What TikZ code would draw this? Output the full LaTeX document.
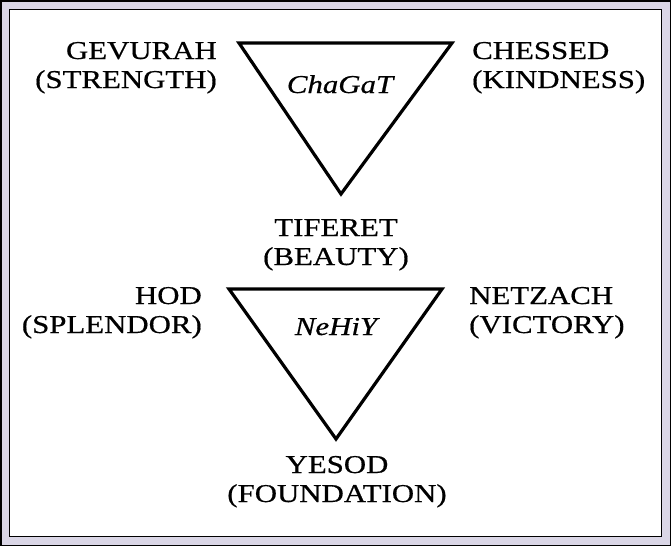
\documentclass[tikz,border=0pt]{standalone}
\usepackage{fontspec}
\setmainfont{Liberation Serif}[FakeStretch=1.2,FakeBold=0.6]
\usetikzlibrary{positioning}
\definecolor{framec}{RGB}{218,214,230}

\begin{document}
\begin{tikzpicture}[x=1pt,y=-1pt,
  sef/.style={font=\fontsize{25.7}{29}\selectfont,inner sep=0pt},
  lft/.style={sef,align=right,anchor=base east},
  rgt/.style={sef,align=left,anchor=base west},
  mid/.style={sef,align=center,anchor=base},
  ital/.style={mid,font=\fontsize{25.7}{29}\selectfont\itshape},
  tri/.style={draw,line width=3.2pt,line join=miter}]
  \useasboundingbox (0,0) rectangle (671,546);
  % frame
  \fill[framec] (0,0) rectangle (671,546);
  \draw[line width=1.5pt] (0.75,0.75) rectangle (670.25,545.25);
  \filldraw[fill=white,line width=1pt] (9.5,9.5) rectangle (661,536);
  % upper triad
  \coordinate (gv) at (239,43); \coordinate (ch) at (452,43); \coordinate (tf) at (341,194);
  \draw[tri] (gv) -- (ch) -- (tf) -- cycle;
  \node[lft] (gevurah) at (217,88) {GEVURAH\\(STRENGTH)};
  \node[rgt] (chessed) at (472,88) {CHESSED\\(KINDNESS)};
  \node[ital] (chagat) at (340,93) {ChaGaT};
  \node[mid] (tiferet) at (336,265) {TIFERET\\(BEAUTY)};
  % lower triad
  \coordinate (hd) at (229,289); \coordinate (nz) at (442,289); \coordinate (ys) at (336,439);
  \draw[tri] (hd) -- (nz) -- (ys) -- cycle;
  \node[lft] (hod) at (202,333) {HOD\\(SPLENDOR)};
  \node[rgt] (netzach) at (469,333) {NETZACH\\(VICTORY)};
  \node[ital] (nehiy) at (336,335) {NeHiY};
  \node[mid] (yesod) at (337,502) {YESOD\\(FOUNDATION)};
\end{tikzpicture}
\end{document}
